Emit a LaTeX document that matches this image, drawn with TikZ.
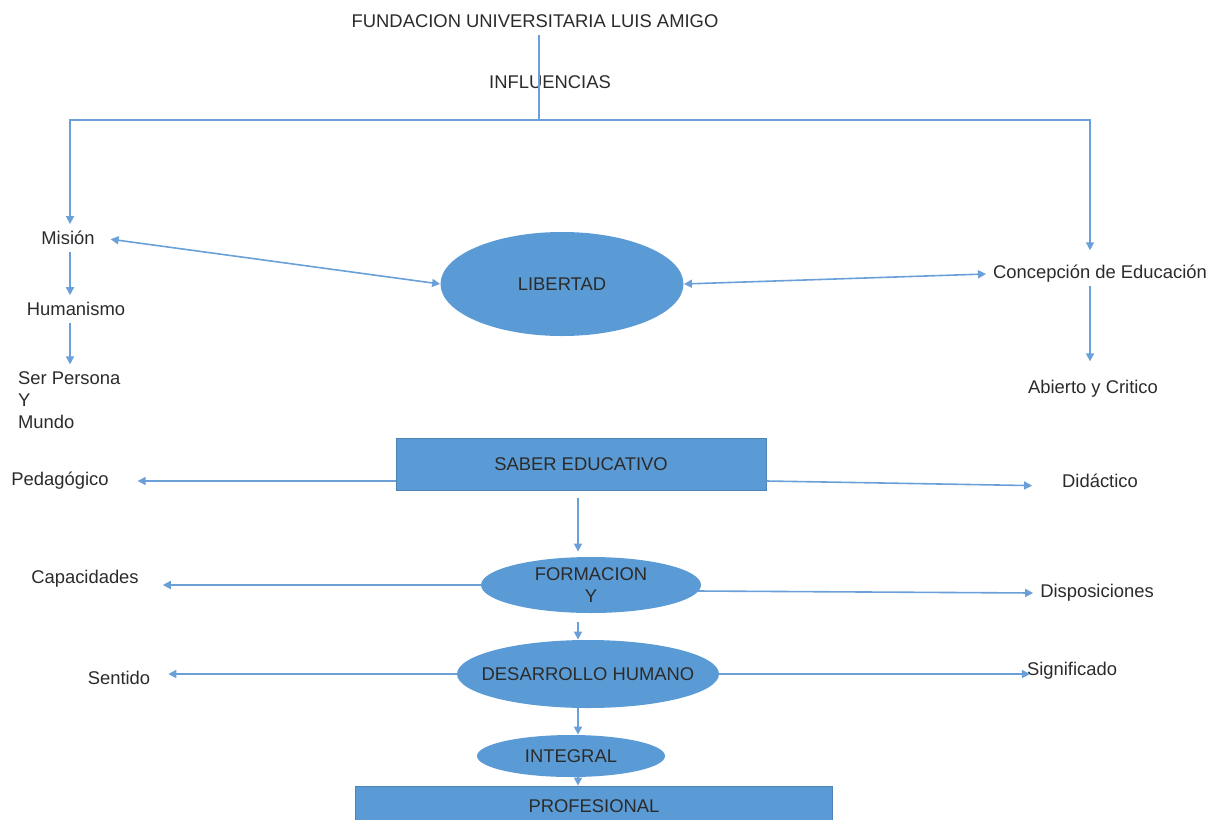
\documentclass[tikz,border=0pt]{standalone}
\usepackage{fontspec}
\setmainfont{Liberation Sans}
\usepackage{xcolor}
\definecolor{officeblue}{HTML}{5B9BD5}
\definecolor{linkblue}{HTML}{6A9FD8}
\definecolor{inkgray}{HTML}{2B2B2B}
\usetikzlibrary{arrows.meta, positioning, calc, shapes.geometric}
\tikzset{every node/.style={font=\fontsize{9.2pt}{11pt}\selectfont, text=inkgray}}

\begin{document}
\begin{tikzpicture}[
    x=0.5pt, y=-0.5pt,
    >={Triangle[length=4pt, width=4pt]},
    link/.style={draw=linkblue, line width=0.8pt},
    oval/.style={ellipse, fill=officeblue, inner sep=-10pt},
    panel/.style={rectangle, fill=officeblue, draw=officeblue!85!black, line width=0.4pt},
  ]
  \useasboundingbox (0,0) rectangle (1225,819);
  \node (fund) at (535,21) {FUNDACION UNIVERSITARIA LUIS AMIGO};
  \node (influ) at (550,82) {INFLUENCIAS};
  \coordinate (split) at (539,120);
  \coordinate (lcol) at (70,0);
  \coordinate (rcol) at (1090,0);
  \coordinate (mcol) at (578,0);
  \node (mision) at (68,238) {Misión};
  \node (human) at (76,309) {Humanismo};
  \node[anchor=west, align=left] (serper) at (11,400) {Ser Persona\\Y\\Mundo};
  \node (concep) at (1100,274) {Concepción de Educación};
  \node (abierto) at (1093,389) {Abierto y Critico};
  \node[oval, minimum width=121.5pt, minimum height=52pt] (libert) at (562,284) {LIBERTAD};
  \node[panel, minimum width=185pt, minimum height=26pt] (saber) at (581,464) {SABER EDUCATIVO};
  \node (pedag) at (60,481) {Pedagógico};
  \node (didac) at (1100,481) {Didáctico};
  \node[oval, minimum width=110pt, minimum height=28pt, align=center] (formac) at (591,585) {FORMACION\\Y};
  \node (capac) at (85,579) {Capacidades};
  \node (dispos) at (1097,593) {Disposiciones};
  \node[oval, minimum width=131pt, minimum height=34pt] (desarr) at (588,674) {DESARROLLO HUMANO};
  \node (sentido) at (119,678) {Sentido};
  \node (signif) at (1072,671) {Significado};
  \node[oval, minimum width=94pt, minimum height=21pt] (integ) at (571,756) {INTEGRAL};
  \node[panel, minimum width=238.5pt, minimum height=20pt] (profes) at (594,806) {PROFESIONAL};
  \draw[link] (fund.south -| split) -- (split);
  \draw[link, ->] (split) -| (lcol |- mision.north);
  \draw[link, ->, shorten >=4pt] (split) -| (rcol |- concep.north);
  \draw[link, ->] (lcol |- mision.south) -- (lcol |- human.north);
  \draw[link, ->] (lcol |- human.south) -- (lcol |- serper.north);
  \draw[link, <->, shorten <=4.5pt] (mision.east) -- (libert.west);
  \draw[link, <->] (libert.east) -- (concep.west);
  \draw[link, ->, shorten <=-2pt, shorten >=6pt] (rcol |- concep.south) -- (rcol |- abierto.north);
  \draw[link, ->, shorten >=11pt] (saber.west |- pedag) -- (pedag);
  \draw[link, ->, shorten >=11.5pt] (saber.east |- didac) -- ([yshift=-2.5pt]didac.west);
  \draw[link, ->, shorten <=4pt, shorten >=2.5pt] (mcol |- saber.south) -- (mcol |- formac.north);
  \draw[link, ->, shorten >=8.5pt] (formac.west) -- (capac.east |- formac.west);
  \draw[link, ->] ([xshift=-2pt, yshift=-3pt]formac.east) -- (dispos.west);
  \draw[link, ->, shorten <=4.5pt] (mcol |- formac.south) -- (mcol |- desarr.north);
  \draw[link, ->, shorten >=5.5pt] (desarr.west) -- (sentido.east |- desarr.west);
  \draw[link, ->, shorten >=-5pt] (desarr.east) -- (signif.west |- desarr.east);
  \draw[link, ->] (mcol |- desarr.south) -- (mcol |- integ.north);
  \draw[link, ->] (mcol |- integ.south) -- (mcol |- profes.north);
\end{tikzpicture}
\end{document}
